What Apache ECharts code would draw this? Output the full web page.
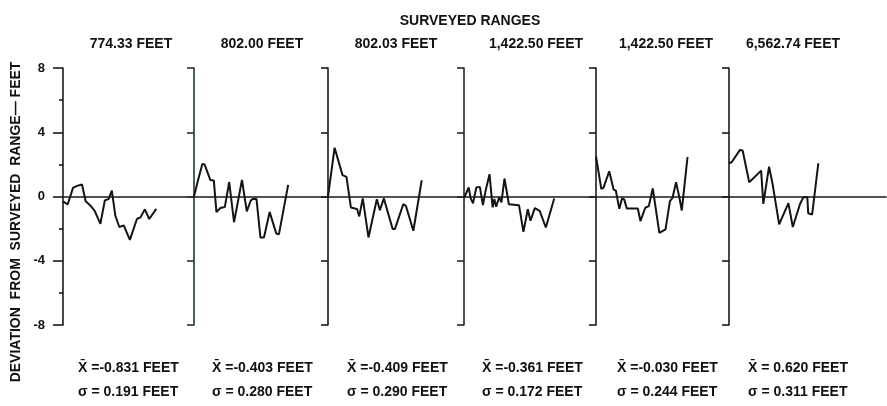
<!DOCTYPE html>
<html>
<head>
<meta charset="utf-8">
<script src="https://cdn.jsdelivr.net/npm/echarts@6/dist/echarts.min.js"></script>
<style>
html,body{margin:0;padding:0;background:#fff;}
#chart{width:887px;height:406px;}
</style>
</head>
<body>
<div id="chart"></div>
<script>
// ---- data ----
const mainTitle = 'SURVEYED RANGES';
const yAxisTitle = 'DEVIATION  FROM  SURVEYED  RANGE\u2014 FEET';
const panelRanges = ['774.33 FEET', '802.00 FEET', '802.03 FEET', '1,422.50 FEET', '1,422.50 FEET', '6,562.74 FEET'];
const meanValues = [-0.831, -0.403, -0.409, -0.361, -0.030, 0.620];
const sigmaValues = [0.191, 0.280, 0.290, 0.172, 0.244, 0.311];
const yMin = -8, yMax = 8, yMajor = 4;

// [station, deviation in feet]
const panel1 = [[0,-0.3],[1.06,-0.5],[2.27,0.54],[3.18,0.66],[4.32,0.75],[5.15,-0.3],[6.2,-0.56],[7.2,-0.9],[8.5,-1.7],[9.5,-0.25],[10.4,-0.15],[11.1,0.37],[11.9,-1.2],[12.8,-1.9],[13.8,-1.8],[15.2,-2.7],[16.8,-1.4],[17.6,-1.3],[18.6,-0.8],[19.6,-1.4],[21.2,-0.77]];
const panel2 = [[0,0],[0.9,1.0],[1.9,2.03],[2.4,2.0],[3.7,1.03],[4.5,1.0],[5.1,-0.97],[6.0,-0.72],[7.0,-0.66],[7.3,-0.66],[8.0,0.9],[9.1,-1.6],[10.9,1.03],[12.0,-0.93],[12.9,-0.25],[13.4,-0.15],[14.2,-0.15],[15.1,-2.55],[15.9,-2.55],[17.2,-0.97],[18.7,-2.3],[19.3,-2.36],[21.4,0.72]];
const panel3 = [[0,0],[1.5,3.04],[3.3,1.33],[4.2,1.22],[5.2,-0.68],[6.1,-0.75],[6.6,-0.78],[7.1,-1.24],[7.9,-0.12],[8.2,-0.16],[9.2,-2.55],[11.1,-0.17],[11.8,-0.85],[12.7,-0.12],[13.0,-0.16],[14.7,-2.03],[15.2,-2.03],[17.1,-0.48],[17.7,-0.58],[19.4,-2.13],[21.3,1.01]];
const panel4 = [[0,-0.1],[1.06,0.56],[1.5,-0.1],[2.05,-0.43],[2.8,0.56],[3.6,0.6],[4.3,-0.54],[4.9,0.35],[5.8,1.39],[6.5,-0.68],[6.9,-0.15],[7.3,-0.64],[8.0,-0.05],[8.5,-0.37],[9.2,1.12],[10.2,-0.48],[12.5,-0.54],[13.5,-2.2],[14.5,-0.79],[15.1,-1.51],[16.1,-0.72],[17.2,-0.89],[18.6,-1.93],[20.5,-0.12]];
const panel5 = [[0,2.5],[1.2,0.48],[1.7,0.54],[3.0,1.57],[4.0,0.43],[4.5,0.37],[5.3,-0.77],[5.9,-0.12],[6.4,-0.18],[7.0,-0.75],[9.5,-0.75],[10.1,-1.53],[11.2,-0.7],[12.0,-0.6],[12.9,0.5],[14.4,-2.26],[15.8,-2.05],[16.8,-0.29],[17.4,-0.08],[18.2,0.89],[18.9,0.0],[19.5,-0.87],[20.8,2.46]];
const panel6 = [[0,2.07],[0.6,2.13],[2.5,2.9],[3.1,2.86],[4.6,0.89],[7.3,1.61],[7.8,-0.46],[9.1,1.86],[9.9,0.79],[11.4,-1.74],[13.5,-0.41],[14.5,-1.9],[16.1,-0.5],[16.9,-0.04],[17.8,-0.04],[18.0,-1.04],[18.9,-1.12],[20.3,2.07]];
const panels = [panel1, panel2, panel3, panel4, panel5, panel6];

// ---- layout ----
const FONT = "'Liberation Sans', Arial, sans-serif";
const axisX = [63, 194, 328, 464, 596, 729];
const rightEdge = 886;
const gridTop = 68, gridHeight = 257;
const pxPerStation = 4.4;
const titleCenters = [131, 262, 396, 536, 666, 793];
const statLeft = [78, 212, 347, 482, 617, 748];
const axisColors = ['#1a1a1a', '#1e3a22', '#1a1a1a', '#1c2e1f', '#1a1a1a', '#1a1a1a'];

const grids = [], xAxes = [], yAxes = [], series = [];
panels.forEach((data, i) => {
  const left = axisX[i];
  const width = (i < 5 ? axisX[i + 1] : rightEdge) - left;
  grids.push({ left: left, top: gridTop, width: width, height: gridHeight, containLabel: false });
  xAxes.push({
    gridIndex: i, type: 'value', min: 0, max: width / pxPerStation,
    axisLine: { show: true, onZero: true, lineStyle: { color: '#1a1a1a', width: 1.6 } },
    axisTick: { show: false }, axisLabel: { show: false }, splitLine: { show: false }
  });
  yAxes.push({
    gridIndex: i, type: 'value', min: yMin, max: yMax, interval: yMajor,
    axisLine: { show: true, onZero: false, lineStyle: { color: axisColors[i], width: 1.6 } },
    axisTick: { show: true, inside: false, length: i === 0 ? 10 : 7, lineStyle: { color: axisColors[i], width: 1.6 } },
    minorTick: { show: i === 0, splitNumber: 2, length: 4, lineStyle: { color: '#1a1a1a', width: 1.6 } },
    axisLabel: { show: i === 0, margin: 18, color: '#111', fontFamily: FONT, fontWeight: 'bold', fontSize: 13 },
    splitLine: { show: false }
  });
  series.push({
    type: 'line', xAxisIndex: i, yAxisIndex: i, data: data,
    showSymbol: false, symbol: 'none', smooth: false,
    lineStyle: { color: '#141414', width: 2 }, z: 5, animation: false
  });
});

const graphics = [];
graphics.push({ type: 'text', x: 470, y: 21, style: { text: mainTitle, font: 'bold 14px ' + FONT, fill: '#111', align: 'center', verticalAlign: 'middle' } });
panelRanges.forEach((t, i) => {
  graphics.push({ type: 'text', x: titleCenters[i], y: 44, style: { text: t, font: 'bold 14px ' + FONT, fill: '#111', align: 'center', verticalAlign: 'middle' } });
});
const fmt = v => (v < 0 ? v.toFixed(3) : ' ' + v.toFixed(3));
meanValues.forEach((v, i) => {
  graphics.push({ type: 'text', x: statLeft[i], y: 368, style: { text: 'X\u0304 =' + fmt(v) + ' FEET', font: 'bold 14px ' + FONT, fill: '#111', align: 'left', verticalAlign: 'middle' } });
});
sigmaValues.forEach((v, i) => {
  graphics.push({ type: 'text', x: statLeft[i], y: 392, style: { text: '\u03c3 = ' + v.toFixed(3) + ' FEET', font: 'bold 14px ' + FONT, fill: '#111', align: 'left', verticalAlign: 'middle' } });
});
graphics.push({ type: 'text', x: 16, y: 222, rotation: Math.PI / 2, style: { text: yAxisTitle, font: 'bold 14px ' + FONT, fill: '#111', align: 'center', verticalAlign: 'middle' } });

const chart = echarts.init(document.getElementById('chart'), null, { renderer: 'canvas' });
chart.setOption({
  backgroundColor: '#fff',
  animation: false,
  grid: grids, xAxis: xAxes, yAxis: yAxes, series: series,
  graphic: graphics
});
</script>
</body>
</html>
